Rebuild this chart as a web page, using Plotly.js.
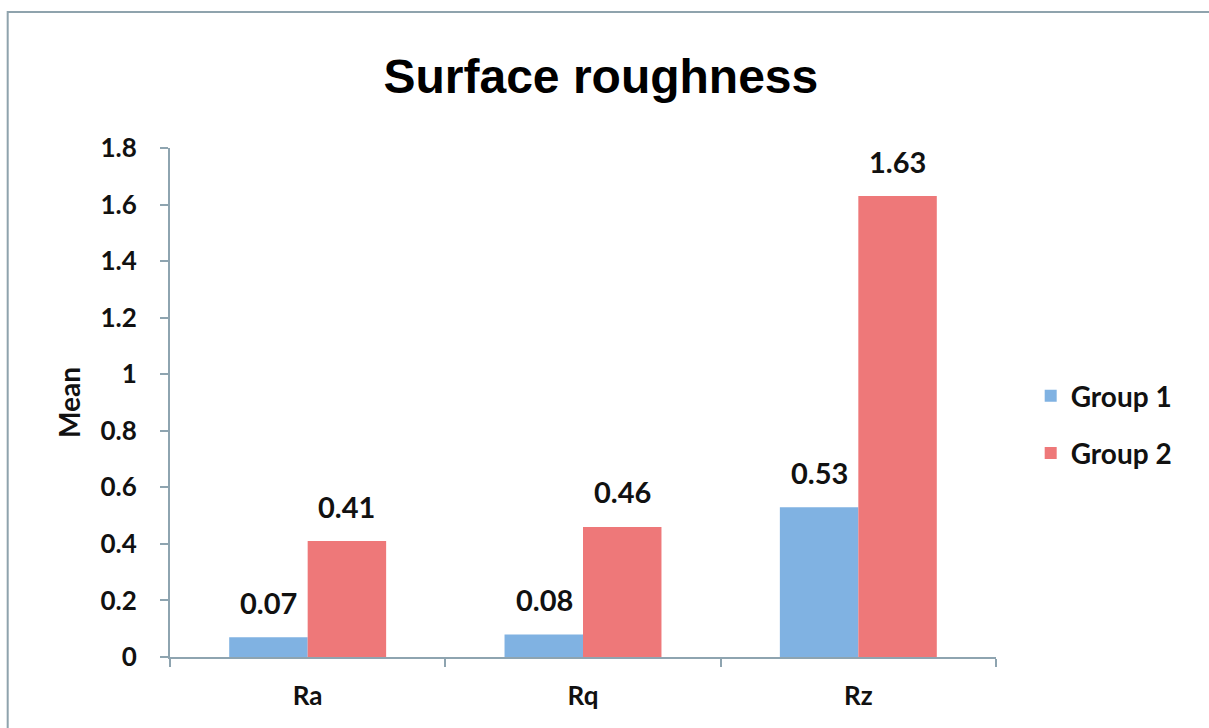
<!DOCTYPE html>
<html>
<head>
<meta charset="utf-8">
<script src="https://cdn.plot.ly/plotly-3.0.1.min.js"></script>
<style>html,body{margin:0;padding:0;background:#fff;}#chart{width:1209px;height:728px;}</style>
</head>
<body>
<div id="chart"></div>
<script>
const categories = ["Ra", "Rq", "Rz"];
const group1 = [0.07, 0.08, 0.53];
const group2 = [0.41, 0.46, 1.63];
const seriesNames = ["Group 1", "Group 2"];
const yTicks = [0, 0.2, 0.4, 0.6, 0.8, 1, 1.2, 1.4, 1.6, 1.8];

const FONT = "Lato, 'Open Sans', sans-serif";
const AXIS = "#8ea4b0";

const trace = (name, vals, color, grp) => ({
  type: "bar", name: name, x: categories, y: vals,
  legendgroup: grp,
  marker: {color: color, line: {width: 0}},
  hoverinfo: "skip"
});

const data = [
  trace(seriesNames[0], group1, "#80b2e2", "g1"),
  trace(seriesNames[1], group2, "#ee7879", "g2")
];

// value labels above each bar, positioned from the data values
const labelFont = {family: FONT, size: 29, color: "#111", weight: 700};
const annotations = [];
[[group1, -39], [group2, 39]].forEach(([vals, dx]) => {
  vals.forEach((v, i) => {
    annotations.push({x: categories[i], y: v, xref: "x", yref: "y",
      text: v.toFixed(2), showarrow: false, xshift: dx, yshift: 35,
      xanchor: "center", yanchor: "middle", font: labelFont});
  });
});

const layout = {
  width: 1209, height: 728,
  margin: {l: 170, r: 213, t: 148, b: 71},
  paper_bgcolor: "#fff", plot_bgcolor: "#fff",
  barmode: "group", bargap: 0.43, bargroupgap: 0,
  title: {text: "<b>Surface roughness</b>", x: 0.497, xanchor: "center", y: 0.895, yanchor: "middle",
          font: {family: "'Liberation Sans', Arial, sans-serif", size: 48, color: "#000"}},
  xaxis: {
    type: "category", showgrid: false, zeroline: false,
    showline: true, linecolor: AXIS, linewidth: 2,
    ticks: "outside", tickson: "boundaries", ticklen: 8, tickcolor: AXIS, tickwidth: 2,
    ticklabelstandoff: 15,
    tickfont: {family: FONT, size: 26, color: "#111", weight: 700}
  },
  yaxis: {
    range: [0, 1.8], tickvals: yTicks, ticktext: yTicks.map(String),
    showgrid: false, zeroline: false,
    showline: true, linecolor: AXIS, linewidth: 2,
    ticks: "outside", ticklen: 8, tickcolor: AXIS, tickwidth: 2,
    ticklabelstandoff: 18,
    tickfont: {family: FONT, size: 26, color: "#111", weight: 700},
    title: {text: "<b>Mean</b>", standoff: 12, font: {family: FONT, size: 28, color: "#111"}}
  },
  annotations: annotations,
  showlegend: true,
  legend: {x: 1.042, xanchor: "left", y: 0.562, yanchor: "top",
           traceorder: "grouped", tracegroupgap: 18,
           font: {family: FONT, size: 28, color: "#111", weight: 700},
           bgcolor: "rgba(0,0,0,0)", itemwidth: 30},
  shapes: [{type: "rect", xref: "paper", yref: "paper",
            x0: -0.1965, x1: 1.2625, y0: -0.2, y1: 1.2672,
            line: {color: "#8fa3ad", width: 2}, fillcolor: "rgba(0,0,0,0)", layer: "below"}]
};

Plotly.newPlot("chart", data, layout, {displayModeBar: false, staticPlot: true});
</script>
</body>
</html>
